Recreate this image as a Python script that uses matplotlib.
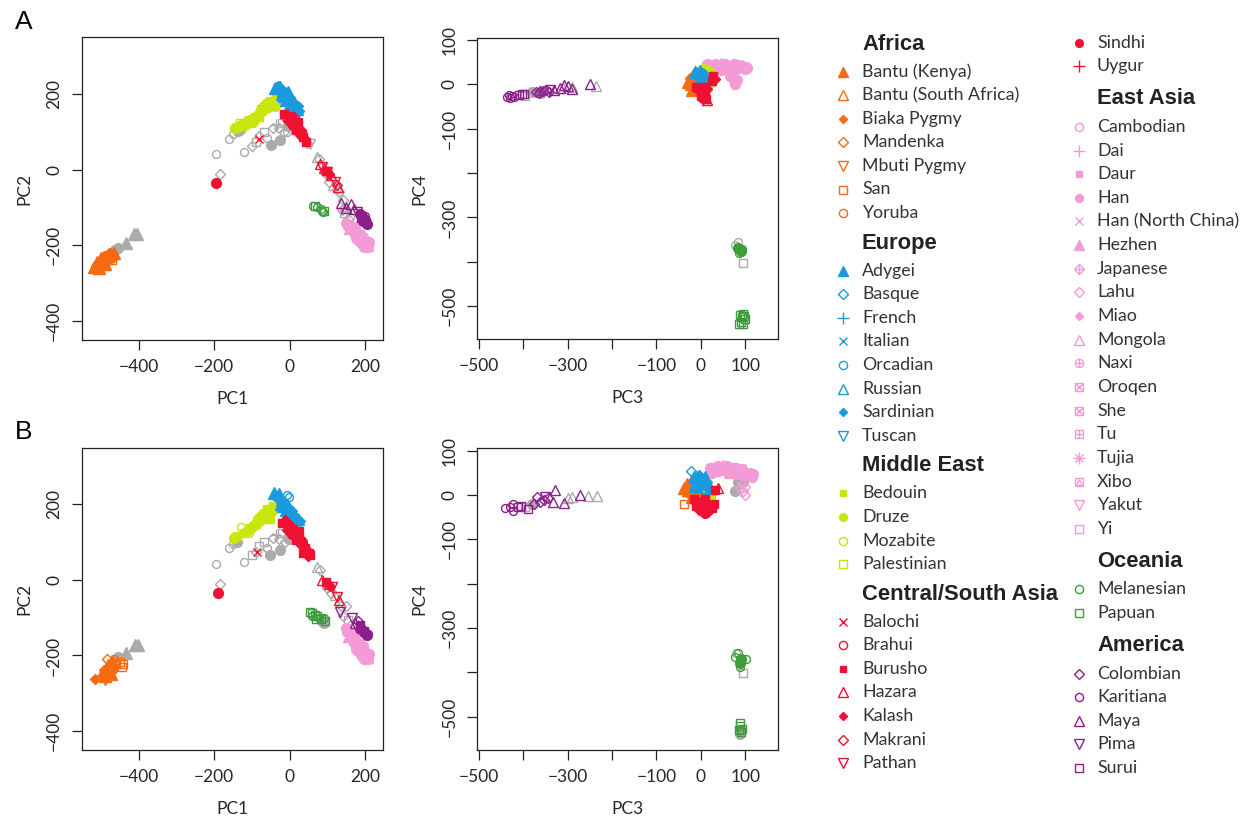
import matplotlib
matplotlib.use("Agg")
import matplotlib.pyplot as plt

# ---- legend: populations, R pch codes ----
africa_pops = ["Bantu (Kenya)", "Bantu (South Africa)", "Biaka Pygmy", "Mandenka",
               "Mbuti Pygmy", "San", "Yoruba"]
africa_pch = [17, 2, 18, 5, 6, 0, 1]
europe_pops = ["Adygei", "Basque", "French", "Italian", "Orcadian", "Russian",
               "Sardinian", "Tuscan"]
europe_pch = [17, 5, 3, 4, 1, 2, 18, 6]
mideast_pops = ["Bedouin", "Druze", "Mozabite", "Palestinian"]
mideast_pch = [15, 16, 1, 0]
csa_pops = ["Balochi", "Brahui", "Burusho", "Hazara", "Kalash", "Makrani", "Pathan",
            "Sindhi", "Uygur"]
csa_pch = [4, 1, 15, 2, 18, 5, 6, 16, 3]
eastasia_pops = ["Cambodian", "Dai", "Daur", "Han", "Han (North China)", "Hezhen",
                 "Japanese", "Lahu", "Miao", "Mongola", "Naxi", "Oroqen", "She", "Tu",
                 "Tujia", "Xibo", "Yakut", "Yi"]
eastasia_pch = [1, 3, 15, 16, 4, 17, 9, 5, 18, 2, 10, 7, 7, 12, 8, 14, 6, 0]
oceania_pops = ["Melanesian", "Papuan"]
oceania_pch = [1, 0]
america_pops = ["Colombian", "Karitiana", "Maya", "Pima", "Surui"]
america_pch = [5, 1, 2, 6, 0]

col_africa = "#F86A12"
col_europe = "#1A9BE0"
col_mideast = "#C9E60C"
col_csa = "#EE1131"
col_eastasia = "#F49AD6"
col_oceania = "#3E9C3A"
col_america = "#8C1F8C"
col_gray = "#ABABAB"

# ---- panel A, PC1 vs PC2: (x, y, pch) ----
africa_a12 = [(-518, -258, 17), (-512, -254, 18), (-507, -250, 17), (-502, -256, 18),
              (-498, -246, 17), (-494, -240, 18), (-490, -250, 17), (-487, -234, 17),
              (-484, -242, 18), (-480, -228, 17), (-476, -236, 18), (-472, -224, 17),
              (-468, -230, 1), (-465, -220, 17), (-470, -240, 0), (-492, -228, 18),
              (-505, -260, 17), (-478, -220, 18), (-510, -245, 17), (-500, -235, 17),
              (-488, -245, 16), (-475, -232, 16)]
europe_a12 = [(-38, 218, 17), (-32, 222, 18), (-25, 220, 17), (-28, 212, 18), (-18, 210, 17),
              (-12, 205, 18), (-20, 200, 17), (-8, 195, 17), (-2, 190, 18), (-10, 185, 17),
              (5, 180, 18), (0, 175, 17), (10, 172, 18), (15, 165, 17), (8, 165, 18),
              (20, 160, 17), (-25, 205, 18), (-15, 195, 17), (25, 155, 18), (-35, 212, 1),
              (-5, 205, 17), (3, 190, 17), (12, 180, 17), (22, 168, 18)]
mideast_a12 = [(-145, 110, 16), (-138, 114, 15), (-130, 118, 16), (-122, 122, 15),
               (-115, 126, 16), (-108, 131, 15), (-100, 136, 16), (-92, 141, 15),
               (-85, 146, 16), (-78, 152, 15), (-70, 158, 16), (-63, 163, 15),
               (-56, 170, 16), (-50, 175, 15), (-43, 181, 16), (-36, 187, 15),
               (-30, 193, 16), (-24, 198, 15), (-68, 168, 16), (-82, 140, 15),
               (-98, 128, 16), (-52, 183, 15), (-60, 178, 16), (-118, 115, 1), (-132, 125, 0),
               (-40, 170, 16), (-75, 162, 15), (-110, 124, 16)]
csa_a12 = [(-15, 148, 15), (-8, 145, 18), (0, 142, 15), (5, 135, 16), (-5, 130, 18),
           (10, 130, 15), (15, 125, 18), (8, 120, 16), (20, 118, 15), (25, 110, 18),
           (18, 105, 15), (30, 100, 16), (28, 92, 18), (35, 88, 15), (40, 82, 18),
           (42, 75, 15), (-10, 138, 1), (12, 140, 5), (22, 128, 15), (32, 95, 15),
           (80, 15, 2), (85, 8, 6), (90, 5, 2), (95, -2, 15), (100, -5, 6), (105, -10, 18),
           (110, -15, 2), (120, -32, 6), (125, -40, 5), (128, -45, 2),
           (-196, -34, 16), (-81, 83, 4)]
eastasia_a12 = [(150, -140, 16), (155, -148, 16), (160, -155, 17), (165, -160, 16),
                (170, -165, 15), (175, -170, 16), (180, -175, 17), (185, -180, 16),
                (190, -185, 15), (195, -190, 16), (200, -195, 16), (205, -200, 17),
                (208, -205, 16), (172, -155, 16), (185, -170, 15), (195, -178, 16),
                (200, -185, 17), (180, -185, 16), (190, -195, 16), (165, -150, 15),
                (160, -145, 16), (198, -205, 16), (175, -180, 16), (210, -190, 16)]
oceania_a12 = [(62, -95, 1), (67, -97, 0), (72, -99, 1), (84, -105, 1), (88, -112, 1),
               (92, -108, 0), (86, -110, 1)]
america_a12 = [(135, -88, 2), (150, -100, 2), (162, -90, 2), (170, -105, 2), (178, -112, 6),
               (185, -118, 16), (192, -125, 15), (198, -130, 16), (202, -138, 15),
               (195, -135, 16), (205, -143, 16), (188, -128, 15), (200, -122, 1)]
gray_a12 = [(-462, -212, 16), (-455, -208, 16), (-433, -193, 17), (-412, -171, 17),
            (-403, -171, 17), (-196, 42, 1), (-185, -11, 5), (-160, 83, 1), (-150, 95, 1),
            (-138, 102, 16), (-130, 105, 1), (-121, 48, 1), (-99, 64, 5), (-90, 75, 0),
            (-80, 90, 5), (-68, 101, 0), (-59, 85, 1), (-50, 67, 16), (-45, 110, 5),
            (-35, 118, 3), (-29, 110, 5), (-26, 79, 16), (-20, 125, 0), (-15, 100, 5),
            (-7, 101, 1), (-5, 115, 16), (-2, 120, 1), (45, 70, 5), (55, 68, 6),
            (72, 35, 2), (78, 28, 5), (95, -10, 5), (104, -31, 5), (115, -40, 2),
            (125, -50, 5), (130, -58, 5), (140, -80, 5), (139, -106, 5), (150, -95, 2),
            (145, -115, 0), (155, -130, 5), (160, -125, 1)]

# ---- panel A, PC3 vs PC4 ----
africa_a34 = [(-28, 5, 17), (-25, 15, 18), (-22, 0, 17), (-18, 22, 17), (-15, -8, 18),
              (-12, 10, 17), (-8, 25, 17), (-5, -2, 18), (-20, -12, 17), (-3, 12, 17)]
europe_a34 = [(-14, 28, 17), (-8, 20, 18), (-2, 30, 17), (2, 15, 17), (6, 25, 18),
              (8, 8, 17), (-5, 10, 17), (10, 20, 17)]
mideast_a34 = [(5, 35, 16), (10, 25, 15), (15, 32, 16), (18, 15, 15), (22, 5, 16),
               (12, 8, 16), (24, 28, 1), (20, 20, 15)]
csa_a34 = [(-10, -5, 15), (-5, -15, 18), (0, -25, 15), (5, -30, 16), (10, -20, 15),
           (15, -10, 18), (12, -32, 15), (-2, -10, 16), (8, -5, 15), (28, 18, 15),
           (32, 12, 18), (25, 8, 15), (14, -35, 2)]
eastasia_a34 = [(15, 45, 16), (25, 47, 15), (35, 46, 16), (45, 45, 17), (55, 46, 16),
                (65, 44, 15), (75, 45, 16), (85, 44, 16), (95, 42, 17), (102, 40, 16),
                (20, 38, 16), (30, 40, 15), (40, 38, 16), (50, 40, 16), (60, 37, 17),
                (70, 38, 16), (80, 35, 16), (90, 36, 15), (100, 34, 16), (105, 36, 16),
                (70, 25, 16), (72, 15, 16), (75, 8, 15), (78, 2, 16), (82, 10, 16),
                (66, 18, 16), (25, 30, 16), (45, 32, 16)]
oceania_a34 = [(85, -368, 16), (88, -372, 1), (90, -376, 16), (86, -380, 1), (92, -372, 1),
               (88, -520, 0), (92, -525, 0), (96, -518, 0), (90, -535, 0), (95, -540, 0),
               (100, -530, 0), (86, -540, 0), (98, -522, 0)]
america_a34 = [(-437, -28, 1), (-430, -30, 1), (-425, -26, 1), (-420, -28, 1), (-432, -24, 1),
               (-410, -24, 0), (-403, -21, 0), (-398, -22, 0), (-370, -18, 5), (-362, -15, 5),
               (-355, -14, 5), (-348, -12, 5), (-342, -16, 5), (-365, -20, 5),
               (-330, -12, 2), (-318, -8, 2), (-308, -2, 2), (-300, -4, 2), (-290, -10, 2),
               (-250, 2, 2), (-340, -13, 6)]
gray_a34 = [(12, -39, 4), (-395, -25, 0), (-235, -4, 2), (-380, -18, 16), (-360, -20, 16),
            (-310, -8, 2), (-290, -6, 2), (83, -355, 1), (78, -362, 1), (96, -402, 0)]

# ---- panel B, PC1 vs PC2 ----
africa_b12 = [(-514, -263, 18), (-495, -245, 17), (-490, -255, 17), (-486, -235, 17),
              (-482, -225, 17), (-478, -245, 2), (-475, -230, 17), (-470, -215, 17),
              (-488, -265, 6), (-480, -258, 5), (-468, -238, 18), (-460, -222, 0),
              (-450, -218, 0), (-442, -222, 0), (-445, -230, 0), (-465, -210, 1),
              (-492, -238, 18), (-498, -250, 17), (-472, -250, 17), (-484, -210, 5)]
europe_b12 = [(-42, 230, 17), (-35, 222, 18), (-28, 226, 17), (-30, 215, 18), (-20, 212, 17),
              (-14, 205, 18), (-22, 200, 17), (-8, 198, 17), (-2, 190, 18), (-10, 185, 17),
              (5, 182, 18), (0, 175, 17), (10, 172, 18), (15, 165, 17), (8, 162, 18),
              (22, 160, 17), (28, 155, 18), (-2, 220, 1), (-8, 225, 1), (-18, 195, 17)]
mideast_b12 = [(-147, 112, 16), (-140, 116, 15), (-130, 141, 1), (-108, 123, 1),
               (-120, 124, 15), (-112, 130, 16), (-104, 136, 15), (-96, 142, 16),
               (-88, 148, 15), (-80, 155, 16), (-72, 162, 15), (-64, 168, 16),
               (-56, 175, 15), (-48, 182, 16), (-40, 190, 15), (-32, 196, 16),
               (-26, 202, 15), (-68, 178, 16), (-60, 188, 15), (-76, 170, 16),
               (-52, 160, 15), (-84, 160, 16), (-45, 195, 15)]
csa_b12 = [(-20, 150, 15), (-12, 158, 18), (-5, 145, 15), (2, 140, 16), (-8, 132, 18),
           (10, 135, 15), (15, 125, 18), (5, 122, 16), (22, 118, 15), (28, 110, 18),
           (18, 105, 15), (32, 100, 16), (30, 92, 18), (40, 85, 15), (45, 78, 18),
           (52, 72, 15), (55, 65, 15), (48, 62, 18), (36, 70, 15), (25, 130, 15),
           (86, 0, 2), (95, -5, 15), (103, -11, 2), (108, -15, 18), (112, -20, 6),
           (125, -45, 6), (130, -53, 2), (-190, -34, 16), (-86, 75, 4)]
eastasia_b12 = [(148, -128, 16), (152, -138, 16), (158, -148, 17), (163, -155, 16),
                (168, -162, 15), (174, -170, 16), (180, -176, 17), (185, -182, 16),
                (190, -188, 15), (195, -194, 16), (200, -200, 16), (205, -205, 17),
                (208, -210, 16), (172, -152, 16), (185, -168, 15), (195, -176, 16),
                (202, -186, 17), (180, -188, 16), (190, -200, 16), (165, -145, 15),
                (160, -138, 16), (198, -210, 16), (175, -182, 16), (210, -195, 16)]
oceania_b12 = [(55, -84, 0), (60, -88, 0), (66, -92, 0), (58, -95, 1), (72, -96, 0),
               (78, -100, 1), (84, -104, 0), (90, -102, 1), (94, -108, 0), (70, -104, 0)]
america_b12 = [(134, -84, 6), (165, -102, 6), (178, -128, 6), (172, -115, 2), (185, -120, 15),
               (190, -130, 16), (196, -136, 15), (200, -140, 16), (204, -146, 16),
               (208, -142, 1), (192, -122, 2), (182, -110, 5)]
gray_b12 = [(-455, -205, 16), (-432, -193, 17), (-410, -172, 17), (-402, -172, 17),
            (-196, 42, 1), (-185, -12, 5), (-161, 84, 1), (-150, 95, 1), (-140, 100, 16),
            (-121, 46, 1), (-99, 66, 0), (-90, 75, 5), (-80, 90, 0), (-68, 101, 0),
            (-60, 84, 1), (-51, 66, 16), (-45, 110, 5), (-35, 118, 3), (-28, 108, 5),
            (-26, 79, 16), (-20, 125, 0), (-12, 100, 5), (-5, 112, 16), (-2, 105, 1),
            (48, 75, 5), (72, 35, 2), (80, 25, 5), (100, -22, 5), (110, -35, 5),
            (120, -40, 2), (135, -70, 5), (150, -70, 5), (140, -95, 5), (155, -105, 0),
            (90, -113, 16), (85, -110, 16), (162, -120, 1)]

# ---- panel B, PC3 vs PC4 ----
africa_b34 = [(-37, -20, 0), (-37, 15, 17), (-30, 25, 17), (-28, 5, 18), (-22, 30, 17),
              (-20, -5, 17), (-15, 15, 18), (-10, 0, 17), (-5, 20, 17), (0, 5, 17),
              (-25, 10, 17), (-32, 8, 2)]
europe_b34 = [(-22, 53, 5), (-16, 40, 17), (-10, 30, 17), (-5, 45, 18), (0, 35, 17),
              (5, 25, 17), (10, 40, 17), (15, 28, 18), (20, 15, 17), (8, 10, 1),
              (-12, 20, 17), (12, 8, 5)]
mideast_b34 = [(21, -4, 16), (15, 5, 15), (25, 8, 16), (18, -10, 1), (12, 18, 15)]
csa_b34 = [(-16, -10, 15), (-10, -25, 15), (-5, -35, 18), (0, -20, 15), (5, -30, 15),
           (10, -40, 16), (15, -25, 15), (20, -35, 18), (25, -30, 15), (30, -20, 15),
           (40, 15, 2), (33, 10, 15), (-8, -15, 16), (10, -10, 15)]
eastasia_b34 = [(20, 60, 16), (30, 62, 15), (40, 65, 16), (50, 66, 17), (60, 64, 16),
                (70, 62, 15), (80, 60, 16), (90, 58, 16), (100, 55, 17), (110, 50, 16),
                (118, 48, 16), (25, 50, 16), (35, 52, 15), (45, 55, 16), (55, 55, 16),
                (65, 52, 17), (75, 50, 16), (85, 48, 16), (95, 46, 15), (105, 45, 16),
                (115, 40, 16), (92, 25, 5), (96, 8, 5), (100, 0, 5), (88, 15, 5), (100, 18, 5)]
oceania_b34 = [(77, -365, 1), (85, -357, 1), (89, -387, 1), (102, -371, 1), (90, -370, 16),
               (88, -378, 16), (89, -515, 0), (89, -522, 0), (92, -528, 0), (90, -534, 0),
               (86, -530, 0)]
america_b34 = [(-441, -30, 1), (-422, -20, 1), (-423, -37, 1), (-430, -28, 1),
               (-411, -28, 0), (-388, -32, 0), (-405, -25, 0), (-369, -4, 5),
               (-354, -11, 5), (-362, -15, 5), (-375, -20, 5), (-345, -8, 5),
               (-328, 11, 2), (-332, -15, 2), (-307, -18, 2), (-272, 0, 2), (-350, -5, 6)]
gray_b34 = [(-253, -2, 2), (-234, -2, 2), (-290, -5, 2), (-300, -8, 2), (-395, -28, 0),
            (-380, -20, 16), (77, 8, 16), (80, 12, 1), (85, 30, 16), (95, 28, 16),
            (80, -357, 1), (96, -402, 0), (88, -538, 16)]

# ---- drawing helpers ----
# R pch -> matplotlib marker parts: (marker, filled, size scale)
PCH_PARTS = {
    0: [("s", False, 0.85)], 1: [("o", False, 0.95)], 2: [("^", False, 1.15)],
    3: [("+", False, 1.35)], 4: [("x", False, 0.95)], 5: [("D", False, 0.85)],
    6: [("v", False, 1.15)], 7: [("s", False, 0.85), ("x", False, 0.85)],
    8: [("+", False, 1.3), ("x", False, 0.95)], 9: [("D", False, 0.85), ("+", False, 1.2)],
    10: [("o", False, 0.95), ("+", False, 0.95)], 12: [("s", False, 0.85), ("+", False, 0.85)],
    14: [("s", False, 0.85), ("^", False, 0.8)], 15: [("s", True, 0.8)],
    16: [("o", True, 0.9)], 17: [("^", True, 1.1)], 18: [("D", True, 0.6)],
}


def draw_pch(ax, xs, ys, code, color, ms, mew=1.0, fill_boost=1.0):
    for marker, filled, scale in PCH_PARTS[code]:
        size = ms * scale * (fill_boost if filled else 1.0)
        ax.plot(xs, ys, ls="none", marker=marker, ms=size,
                mfc=color if filled else "none", mec=color, mew=mew, clip_on=False)


def draw_points(ax, pts, color, ms=6.0):
    codes = sorted(set(p[2] for p in pts))
    for c in codes:
        xs = [p[0] for p in pts if p[2] == c]
        ys = [p[1] for p in pts if p[2] == c]
        draw_pch(ax, xs, ys, c, color, ms, fill_boost=1.3)


W, H = 1249, 824
fig = plt.figure(figsize=(W / 100, H / 100), dpi=100)
body_font = ["Lato", "DejaVu Sans"]
txt_col = "#262626"


def box(l, t, r, b):
    return [l / W, 1 - b / H, (r - l) / W, (b - t) / H]


def style_axes(ax, xticks, xlabels, yticks, ylabels, xl, yl):
    ax.set_xticks(xticks)
    ax.set_xticklabels(xlabels)
    ax.set_yticks(yticks)
    ax.set_yticklabels(ylabels, rotation=90, va="center")
    for lab in ax.get_xticklabels() + ax.get_yticklabels():
        lab.set_fontfamily(body_font)
        lab.set_fontsize(12.5)
        lab.set_color(txt_col)
    ax.tick_params(direction="out", length=7, width=0.9, pad=7, color="#222222")
    for s in ax.spines.values():
        s.set_linewidth(0.9)
        s.set_color("#222222")
    ax.set_xlabel(xl, fontsize=12.5, family=body_font, color=txt_col, labelpad=11)
    ax.set_ylabel(yl, fontsize=12.5, family=body_font, color=txt_col, labelpad=10)


def minus(v):
    return str(v).replace("-", "\u2212")


pc12_ticks = [-400, -200, 0, 200]
pc34_ticks = [-500, -400, -300, -200, -100, 0, 100]
pc34_xlab = [minus(v) if v not in (-400, -200) else "" for v in pc34_ticks]
pc34_ylab = [minus(v) if v not in (-400, -200) else "" for v in pc34_ticks]

panels = [
    (box(81.5, 37, 383, 340), (-551, 247), (-451, 352), "12",
     [africa_a12, europe_a12, mideast_a12, csa_a12, eastasia_a12, oceania_a12, america_a12, gray_a12]),
    (box(476.7, 38.3, 778, 339), (-504.5, 174), (-574, 104), "34",
     [africa_a34, europe_a34, mideast_a34, csa_a34, eastasia_a34, oceania_a34, america_a34, gray_a34]),
    (box(81.5, 448.3, 383, 750), (-551, 247), (-450, 348), "12",
     [africa_b12, europe_b12, mideast_b12, csa_b12, eastasia_b12, oceania_b12, america_b12, gray_b12]),
    (box(476.7, 448.3, 778, 750), (-504.5, 174), (-575, 105), "34",
     [africa_b34, europe_b34, mideast_b34, csa_b34, eastasia_b34, oceania_b34, america_b34, gray_b34]),
]
# draw order: gray first, then coloured groups
group_cols = [col_africa, col_europe, col_mideast, col_csa, col_eastasia, col_oceania,
              col_america, col_gray]
order = [7, 4, 0, 2, 1, 3, 5, 6]

for rect, xlim, ylim, kind, groups in panels:
    ax = fig.add_axes(rect)
    for gi in order:
        draw_points(ax, groups[gi], group_cols[gi], ms=6.0)
    ax.set_xlim(*xlim)
    ax.set_ylim(*ylim)
    if kind == "12":
        labs = [minus(v) for v in pc12_ticks]
        style_axes(ax, pc12_ticks, labs, pc12_ticks, labs, "PC1", "PC2")
    else:
        style_axes(ax, pc34_ticks, pc34_xlab, pc34_ticks, pc34_ylab, "PC3", "PC4")

fig.text(24 / W, 1 - 22 / H, "A", fontsize=19, family="Liberation Sans", ha="center", va="center")
fig.text(24 / W, 1 - 432 / H, "B", fontsize=19, family="Liberation Sans", ha="center", va="center")

# ---- legend in pixel coordinates ----
lg = fig.add_axes([0, 0, 1, 1])
lg.set_xlim(0, W)
lg.set_ylim(H, 0)
lg.axis("off")

regions = [("Africa", africa_pops, africa_pch, col_africa),
           ("Europe", europe_pops, europe_pch, col_europe),
           ("Middle East", mideast_pops, mideast_pch, col_mideast),
           ("Central/South Asia", csa_pops, csa_pch, col_csa),
           ("East Asia", eastasia_pops, eastasia_pch, col_eastasia),
           ("Oceania", oceania_pops, oceania_pch, col_oceania),
           ("America", america_pops, america_pch, col_america)]

cols = [dict(mx=843, tx=862, y=44, pre=30, post=27.5, step=23.6),
        dict(mx=1079, tx=1097, y=42.7, pre=32.5, post=28, step=23.65)]
ci = 0
y = None
prev = None
for title, pops, pchs, color in regions:
    c = cols[ci]
    y = c["y"] if y is None else y + c["pre"]
    lg.text(c["tx"], y, title, fontsize=15.8, fontweight="bold", family="Liberation Sans",
            color="#222222", va="center", ha="left")
    prev = "h"
    for name, p in zip(pops, pchs):
        if name == "Sindhi":
            ci = 1
            c = cols[ci]
            y = c["y"]
        else:
            y += c["post"] if prev == "h" else c["step"]
        prev = "e"
        draw_pch(lg, [c["mx"]], [y], p, color, 6.2)
        lg.text(c["tx"], y, name, fontsize=12.8, family=body_font,
                color="#333333", va="center", ha="left")

fig.savefig("out.png", dpi=100)
